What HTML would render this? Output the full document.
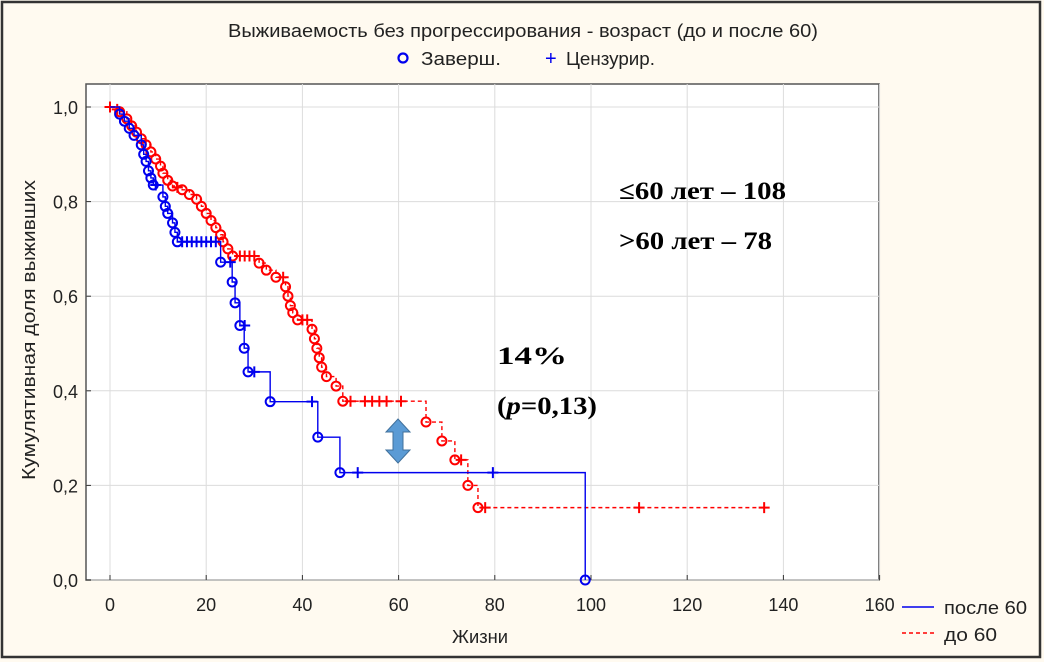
<!DOCTYPE html>
<html><head><meta charset="utf-8"><style>
html,body{margin:0;padding:0;background:#fffaf0}
svg{display:block}
</style></head><body>
<svg id="s" width="1044" height="662" xmlns="http://www.w3.org/2000/svg" font-family="Liberation Sans, DejaVu Sans, sans-serif">
<rect x="0" y="0" width="1044" height="662" fill="#fffaf0"/>
<rect x="2" y="2" width="1038" height="655" fill="none" stroke="#333" stroke-width="2.5"/>
<rect x="86" y="84" width="793" height="496" fill="#fff" stroke="#555" stroke-width="1.5"/>
<g id="grid" stroke="#dcdcdc" stroke-width="1"></g>
<text x="228" y="37" font-size="18" textLength="590" lengthAdjust="spacingAndGlyphs" fill="#222">Выживаемость без прогрессирования - возраст (до и после 60)</text>
<circle cx="403" cy="58" r="4.5" fill="none" stroke="#0000ee" stroke-width="2.2"/>
<text x="421" y="65" font-size="18" textLength="80" lengthAdjust="spacingAndGlyphs" fill="#222">Заверш.</text>
<text x="545" y="65" font-size="20" fill="#0000ee">+</text>
<text x="566" y="65" font-size="18" textLength="89" lengthAdjust="spacingAndGlyphs" fill="#222">Цензурир.</text>
<text transform="translate(35,330) rotate(-90)" font-size="18" text-anchor="middle" textLength="300" lengthAdjust="spacingAndGlyphs" fill="#222">Кумулятивная доля выживших</text>
<text x="452" y="643" font-size="18" textLength="56" lengthAdjust="spacingAndGlyphs" fill="#222">Жизни</text>
<g id="ticks" font-size="18" fill="#222"></g>
<g id="curves"></g>
<line x1="902" y1="607" x2="934" y2="607" stroke="#0000ee" stroke-width="1.5"/>
<text x="944" y="614" font-size="18" textLength="83" lengthAdjust="spacingAndGlyphs" fill="#222">после 60</text>
<line x1="902" y1="633" x2="934" y2="633" stroke="#ff0000" stroke-width="1.5" stroke-dasharray="4,3"/>
<text x="944" y="641" font-size="18" textLength="53" lengthAdjust="spacingAndGlyphs" fill="#222">до 60</text>
<g font-family="Liberation Serif, serif" font-weight="bold" font-size="25" fill="#000">
<text x="619" y="199" textLength="167" lengthAdjust="spacingAndGlyphs">≤60 лет – 108</text>
<text x="619" y="249" textLength="153" lengthAdjust="spacingAndGlyphs">&gt;60 лет – 78</text>
<text x="497" y="364" textLength="70" lengthAdjust="spacingAndGlyphs">14%</text>
<text x="497" y="414" textLength="100" lengthAdjust="spacingAndGlyphs">(<tspan font-style="italic">p</tspan>=0,13)</text>
</g>
<polygon points="398,419 410,432 403,432 403,450 410,450 398,463 386,450 393,450 393,432 386,432" fill="#5b9bd5" stroke="#41719c" stroke-width="1"/>
</svg>
<script>
var X=function(t){return 110+t*4.81},Y=function(s){return 580-s*473};
var ns="http://www.w3.org/2000/svg";
function el(p,n,a){var e=document.createElementNS(ns,n);for(var k in a)e.setAttribute(k,a[k]);p.appendChild(e);return e;}
var g=document.getElementById('grid'),tk=document.getElementById('ticks'),cv=document.getElementById('curves');
for(var i=0;i<=8;i++){var x=X(i*20);el(g,'line',{x1:x,y1:84,x2:x,y2:580});el(tk,'line',{x1:x,y1:575,x2:x,y2:580,stroke:'#333'});var t=el(tk,'text',{x:x,y:611,'text-anchor':'middle'});t.textContent=i*20;}
for(var j=0;j<=5;j++){var v=j*0.2,y=Y(v);el(g,'line',{x1:86,y1:y,x2:879,y2:y});el(tk,'line',{x1:86,y1:y,x2:91,y2:y,stroke:'#333'});var t=el(tk,'text',{x:78,y:y+7,'text-anchor':'end'});t.textContent=v.toFixed(1).replace('.',',');}
function draw(ev,cens,end,col,dash){
 var d='M'+X(0)+','+Y(1),s=1;
 ev.forEach(function(e){d+=' H'+X(e[0])+' V'+Y(e[1]);s=e[1];});
 d+=' H'+X(end);
 var a={d:d,fill:'none',stroke:col,'stroke-width':1.4};if(dash)a['stroke-dasharray']='4,3';
 el(cv,'path',a);
 ev.forEach(function(e){el(cv,'circle',{cx:X(e[0]),cy:Y(e[1]),r:4.5,fill:'none',stroke:col,'stroke-width':2});});
 cens.forEach(function(c){var x=X(c[0]),y=Y(c[1]);el(cv,'path',{d:'M'+(x-5.5)+','+y+'H'+(x+5.5)+'M'+x+','+(y-5.5)+'V'+(y+5.5),stroke:col,'stroke-width':2});});
}
var red=[[2,.99],[3.5,.975],[4.5,.96],[5.5,.947],[6.5,.933],[7.5,.92],[8.5,.905],[9.5,.89],[10.5,.875],[11,.86],[12,.845],[13,.833],[15,.825],[16.5,.815],[18,.805],[19,.79],[20,.775],[21,.76],[22,.745],[23,.73],[23.5,.715],[24.5,.7],[25.5,.685],[31,.67],[32.5,.655],[34.5,.64],[36.5,.62],[37,.6],[37.5,.58],[38,.565],[39,.55],[42,.53],[42.5,.51],[43,.49],[43.5,.47],[44,.45],[45,.43],[47,.41],[48.4,.378],[65.7,.334],[69,.294],[71.7,.254],[74.4,.2],[76.5,.153]];
var redc=[[0,1],[1.5,.995],[14,.83],[27,.685],[28,.685],[29,.685],[30,.685],[36,.64],[40,.55],[41,.55],[50,.378],[53,.378],[54.5,.378],[56,.378],[57.5,.378],[60.5,.378],[73,.254],[78,.153],[110,.153],[136,.153]];
draw(red,redc,136,'#ff0000',true);
var blue=[[2,.985],[3,.97],[4,.955],[5,.94],[6.5,.92],[7,.9],[7.5,.885],[8,.865],[8.5,.85],[9,.835],[11,.81],[11.5,.79],[12,.775],[13,.755],[13.5,.735],[14,.715],[23,.672],[25.4,.63],[26,.586],[27,.538],[27.9,.49],[28.7,.44],[33.3,.377],[43.2,.302],[47.8,.227],[98.8,0]];
var bluec=[[9.5,.835],[15,.715],[16,.715],[17,.715],[18,.715],[19,.715],[20,.715],[21,.715],[22,.715],[25,.672],[28,.538],[30,.44],[42,.377],[51.5,.227],[79.6,.227]];
draw(blue,bluec,98.8,'#0000ee',false);
</script>
</body></html>
